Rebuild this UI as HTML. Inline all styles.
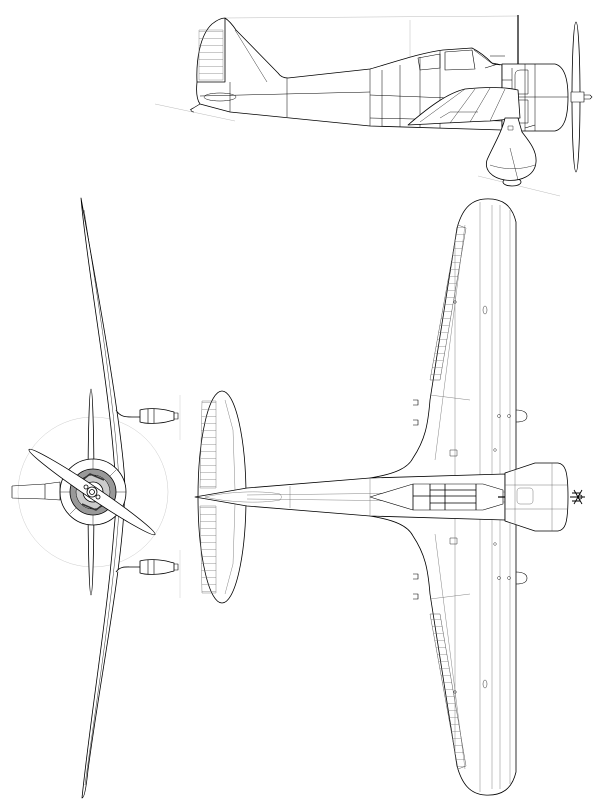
<!DOCTYPE html>
<html><head><meta charset="utf-8"><style>html,body{margin:0;padding:0;background:#fff}svg{display:block}</style></head>
<body>
<svg width="600" height="807" viewBox="0 0 600 807" xmlns="http://www.w3.org/2000/svg">
<defs>
<pattern id="rib" width="6" height="7" patternUnits="userSpaceOnUse"><line x1="0" y1="3.5" x2="6" y2="3.5" stroke="#777" stroke-width="0.4"/></pattern>
</defs>
<g fill="none" stroke="#000" stroke-width="0.8" stroke-linejoin="round">

<!-- ===== SIDE VIEW ===== -->
<g stroke="#bbb" stroke-width="0.5">
<line x1="225" y1="18" x2="518" y2="16"/>
<line x1="155" y1="104" x2="235" y2="121"/>
<line x1="478" y1="176" x2="560" y2="196"/>
<line x1="410" y1="20" x2="410" y2="68"/>
</g>
<line x1="518" y1="15" x2="518" y2="65" stroke-width="1.2"/>
<path fill="#fff" d="M197,82 C196,60 200,35 212,24 C217,20 222,18 225,18 C228,20 232,24 236,30 L278,73 C280,76 283,78 288,78 L370,69 C395,62 420,53 443,50 L472,48 C480,52 487,58 492,63 L502,65 L502,130 L370,126 L230,112 L200,104 C197,100 196,92 197,82 Z"/>
<path d="M197,82 L225,82 L225,18" />
<path fill="url(#rib)" stroke="#777" stroke-width="0.4" d="M199,30 L223,30 L223,80 L199,80 Z"/>
<line x1="235" y1="30" x2="267" y2="82" stroke-width="0.4"/>
<path stroke-width="0.5" d="M370,69 L370,126 M382,70 L382,126 M400,65 L400,127 M420,57 L420,127 M440,51 L440,128 M370,95 L502,100 M370,118 L502,121 M287,78 L287,117 M230,112 L230,82 M200,96 L370,92"/>
<ellipse cx="220" cy="97" rx="16" ry="4" stroke-width="0.5"/>
<path d="M418,58 L440,54 L440,68 L420,70 Z M445,52 L472,50 L475,69 L445,70 Z" stroke-width="0.6"/>
<path d="M474,50 L490,62 L493,64 L500,65" stroke-width="0.5"/>
<path d="M485,68 L498,64 M490,56 L505,56" stroke-width="0.6"/>
<path fill="#fff" d="M502,64 L555,64 C563,66 568,75 568,97 C568,120 563,129 555,131 L502,131 Z"/>
<path stroke-width="0.5" d="M535,64 L535,131 M525,64 L525,131 M512,68 L512,126 M502,97 L568,97 M512,80 L502,80 M512,112 L502,112"/>
<path stroke-width="0.5" d="M515,75 C515,71 518,70 521,70 L528,70 L528,94 L515,94 Z M515,100 L528,100 L528,123 L515,123 Z"/>
<path fill="#fff" d="M408,125 C430,106 448,93 465,89 C485,87 505,87 518,90 L520,118 L490,121 C460,122 430,124 408,125 Z"/>
<path stroke-width="0.4" d="M465,89 L420,122 M475,89 L450,123 M490,88 L470,122 M505,89 L490,121 M440,118 L450,112 L478,112"/>
<ellipse cx="512" cy="182" rx="9" ry="4" fill="#fff"/>
<path fill="#fff" d="M505,118 C502,132 492,148 487,160 C484,170 492,178 505,180 C520,182 535,176 536,162 C537,150 528,140 522,132 L518,118 Z"/>
<path stroke-width="0.4" d="M510,148 L518,180 M490,165 C505,170 520,170 535,165"/>
<rect x="508" y="126" width="5" height="4" stroke-width="0.4"/>
<path d="M525,128 L535,125" stroke-width="0.6"/>
<path d="M190,110 L200,104 M194,108 A3,2 0 1 0 194,112" stroke-width="0.6"/>
<ellipse cx="576" cy="97" rx="4" ry="75" fill="#fff"/>
<rect x="571" y="92" width="13" height="10" fill="#fff" stroke-width="0.6"/>
<path d="M584,95 L590,95 L592,97 L590,99 L584,99" stroke-width="0.6"/>

<!-- ===== TOP VIEW ===== -->
<path fill="#fff" d="M370,478 C395,474 408,468 413,458 C425,440 428,425 430,400 L457,228 C462,210 470,200 485,199 C502,198 512,205 516,222 L516,772 C512,789 502,796 485,795 C470,794 462,784 457,766 L430,594 C428,569 425,554 413,536 C408,526 395,520 370,516 Z"/>
<path stroke="#666" stroke-width="0.4" d="M465,225 L435,460 M465,769 L435,534 M480,202 L480,792 M492,205 L492,789 M500,205 L500,789 M510,210 L510,784 M455,240 L455,754 M430,395 L470,400 M430,599 L470,594"/>
<path fill="url(#rib)" stroke="#555" stroke-width="0.5" d="M458,225 L466,228 L440,380 L430,380 Z"/>
<path fill="url(#rib)" stroke="#555" stroke-width="0.5" d="M458,769 L466,766 L440,614 L430,614 Z"/>
<g stroke-width="0.6">
<path d="M413,400 L418,400 L418,405 L413,405 M413,420 L418,420 L418,425 L413,425"/>
<path d="M413,574 L418,574 L418,579 L413,579 M413,594 L418,594 L418,599 L413,599"/>
<path d="M516,410 C524,410 527,413 527,416 C527,420 524,422 516,422"/>
<path d="M516,572 C524,572 527,575 527,578 C527,582 524,584 516,584"/>
</g>
<g stroke-width="0.4">
<circle cx="509" cy="416" r="1.5"/><circle cx="499" cy="416" r="1.5"/>
<circle cx="509" cy="578" r="1.5"/><circle cx="499" cy="578" r="1.5"/>
<circle cx="495" cy="450" r="1.3"/><circle cx="495" cy="544" r="1.3"/>
<rect x="450" y="450" width="7" height="6"/><rect x="450" y="538" width="7" height="6"/>
<ellipse cx="485" cy="310" rx="2" ry="4"/><ellipse cx="485" cy="684" rx="2" ry="4"/>
<circle cx="455" cy="302" r="1.3"/><circle cx="455" cy="692" r="1.3"/>
</g>
<ellipse cx="222" cy="497" rx="24" ry="106" fill="#fff"/>
<path fill="url(#rib)" stroke="#666" stroke-width="0.4" d="M202,401 L216,401 L216,488 L200,488 Z M200,506 L216,506 L216,593 L202,593 Z"/>
<path stroke="#666" stroke-width="0.4" d="M225,400 L233,430 L235,490 M225,594 L233,564 L235,504"/>
<path fill="#fff" d="M195,497 L247,488 L370,478 L505,474 L505,520 L370,516 L247,506 Z"/>
<path stroke="#666" stroke-width="0.4" d="M205,497 C225,492 260,490 280,494 C282,497 282,497 280,500 C260,504 225,502 205,497 M290,486 L290,508 M370,478 L370,516 M247,495 L505,492 M247,499 L505,502"/>
<path d="M370,497 L413,484 L483,484 L503,490 L503,504 L483,510 L413,510 Z" fill="#fff" stroke-width="0.6"/>
<path stroke-width="0.8" d="M413,484 L413,510 M430,484 L430,510 M445,484 L445,510 M476,484 L476,510 M413,496 L476,496 M430,490 L476,490 M430,503 L476,503"/>
<path d="M498,497 L505,497" stroke-width="1.2"/>
<path fill="#fff" d="M505,473 L535,463 L558,463 C565,464 568,470 568,497 C568,524 565,530 558,531 L535,531 L505,521 Z"/>
<path stroke="#555" stroke-width="0.4" d="M552,463 L552,531 M505,485 L568,485 M505,509 L568,509 M515,470 L515,524"/>
<rect x="517" y="488" width="16" height="16" rx="3" stroke="#555" stroke-width="0.4"/>
<path stroke-width="0.9" d="M570,497 L585,497 M574,490 L582,504 M574,504 L582,490 M572,493 L580,493 M572,501 L580,501"/>
<circle cx="580" cy="497" r="2"/>

<!-- ===== FRONT VIEW ===== -->
<circle cx="93" cy="492" r="75" stroke="#ccc" stroke-width="0.5"/>
<g stroke="#ccc" stroke-width="0.5"><line x1="180" y1="395" x2="180" y2="440"/><line x1="180" y1="550" x2="180" y2="598"/></g>
<ellipse cx="91" cy="492" rx="3" ry="103" fill="#fff"/>
<path fill="#fff" d="M81,198 C86,260 108,380 114,460 C117,492 117,500 114,530 C108,610 90,720 82,798 C84,798 86,790 88,770 C100,680 120,580 124,510 C125,492 125,480 124,470 C118,400 92,260 81,198 Z"/>
<path stroke-width="0.4" d="M84,210 C98,300 114,400 119,480 M85,785 C98,690 114,590 119,510"/>
<path fill="#fff" d="M116,410 C120,417 126,417 132,417 L140,417 L140,410 C146,408 160,408 170,411 L174,412 L174,420 L170,421 C160,424 146,424 140,422 L140,417"/>
<path fill="#fff" d="M116,572 C120,566 126,567 132,567 L140,567 L140,561 C146,559 160,559 170,562 L174,563 L174,571 L170,572 C160,575 146,575 140,573 L140,567"/>
<path stroke-width="0.6" d="M174,413 L178,413 L178,419 L174,419 M174,564 L178,564 L178,570 L174,570 M148,409 L148,423 M154,409 L154,423 M148,560 L148,574 M154,560 L154,574"/>
<path stroke-width="0.6" d="M12,486 L45,484 L60,482 L60,500 L45,499 L12,498 M12,486 L12,498 M45,484 L45,499"/>
<circle cx="93" cy="492" r="33" fill="#fff"/>
<circle cx="93" cy="492" r="23" fill="#999"/>
<circle cx="93" cy="492" r="17" fill="#ccc" stroke-width="0.5"/>
<path stroke="#333" stroke-width="1.5" d="M80,482 L90,474 L104,480 M106,502 L96,510 L82,504"/>
<circle cx="93" cy="492" r="10" fill="#fff"/>
<path stroke-width="0.4" d="M93,459 L93,469 M93,515 L93,525 M60,492 L70,492 M116,492 L126,492 M70,470 L76,476 M110,508 L116,514 M70,514 L76,508 M110,476 L116,470"/>
<ellipse cx="92" cy="492" rx="76" ry="6" transform="rotate(34 92 492)" fill="#fff"/>
<circle cx="92" cy="492" r="5" fill="#fff"/>
<circle cx="92" cy="492" r="2.5"/>
<circle cx="86" cy="487" r="2" fill="#fff"/><circle cx="98" cy="497" r="2" fill="#fff"/>
</g>
</svg>
</body></html>
